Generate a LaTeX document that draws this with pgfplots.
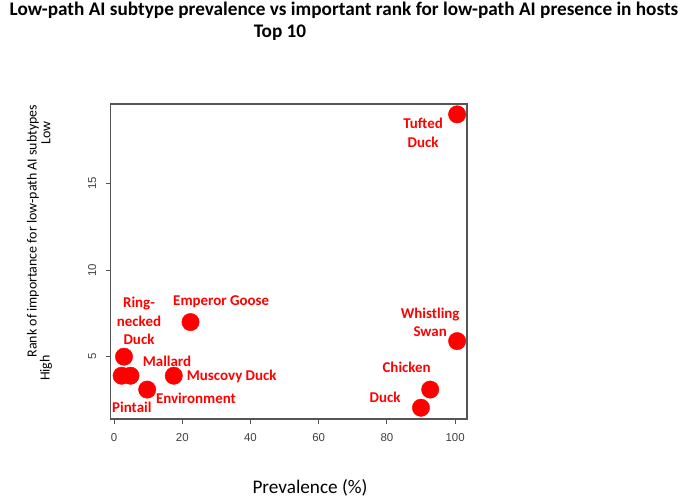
\documentclass[border=0pt]{standalone}
\usepackage{pgfplots}
\pgfplotsset{compat=1.18}
\usepackage{fontspec}
\setmainfont{Carlito}
\newfontfamily\arialfont{Liberation Sans}
\definecolor{axgray}{HTML}{555555}
\definecolor{labred}{HTML}{FF0000}

\begin{document}
\begin{tikzpicture}[x=1bp,y=1bp]
\path[use as bounding box] (0,0) rectangle (685,503);
% title and outer labels
\node[font=\bfseries\fontsize{19.3}{22}\selectfont] at (344,493) {Low-path AI subtype prevalence vs important rank for low-path AI presence in hosts};
\node[font=\bfseries\fontsize{19.3}{22}\selectfont] at (280,470) {Top 10};
\node[font=\fontsize{19.3}{22}\selectfont] at (310,15) {Prevalence (\%)};
\node[font=\fontsize{14}{16}\selectfont, rotate=90] at (33,272) {Rank of importance for low-path AI subtypes};
\node[font=\fontsize{14}{16}\selectfont, rotate=90] at (46,370) {Low};
\node[font=\fontsize{14}{16}\selectfont, rotate=90] at (46,135) {High};

\begin{axis}[
  at={(110.7bp,84bp)}, anchor=south west,
  width=356.3bp, height=315bp, scale only axis,
  xmin=-1, xmax=103.5, ymin=1.4, ymax=19.6,
  xtick={0,20,...,100}, ytick={5,10,15},
  axis line style={axgray, line width=1.2pt},
  tick style={axgray, line width=1pt},
  tick align=outside, major tick length=5bp,
  xtick pos=bottom, ytick pos=left,
  xticklabel shift=6bp, yticklabel shift=6bp,
  /pgf/number format/assume math mode=true,
  ticklabel style={font=\arialfont\fontsize{11.5}{13}\selectfont, text=black!75},
  yticklabel style={rotate=90, anchor=south},
  clip=false,
]
\addplot[only marks, mark=*, mark size=8.7bp, color=labred] coordinates {
  (100.6,19) (100.6,5.9) (22.4,7) (2.9,5) (2.2,3.9)
  (4.8,3.9) (17.5,3.9) (9.7,3.1) (92.7,3.1) (90,2.05)
};
\begin{scope}[every node/.style={text=labred, font=\bfseries\fontsize{15}{18.5}\selectfont, align=center}]
\node at (axis cs:90.6,17.93) {Tufted\\Duck};
\node at (axis cs:92.7,7.0) {Whistling\\Swan};
\node at (axis cs:31.4,8.16) {Emperor Goose};
\node at (axis cs:7.3,7.06) {Ring-\\necked\\Duck};
\node at (axis cs:15.5,4.75) {Mallard};
\node at (axis cs:34.5,3.84) {Muscovy Duck};
\node at (axis cs:24.0,2.6) {Environment};
\node at (axis cs:5.2,2.05) {Pintail};
\node at (axis cs:85.8,4.36) {Chicken};
\node at (axis cs:79.5,2.65) {Duck};
\end{scope}
\end{axis}
\end{tikzpicture}
\end{document}
